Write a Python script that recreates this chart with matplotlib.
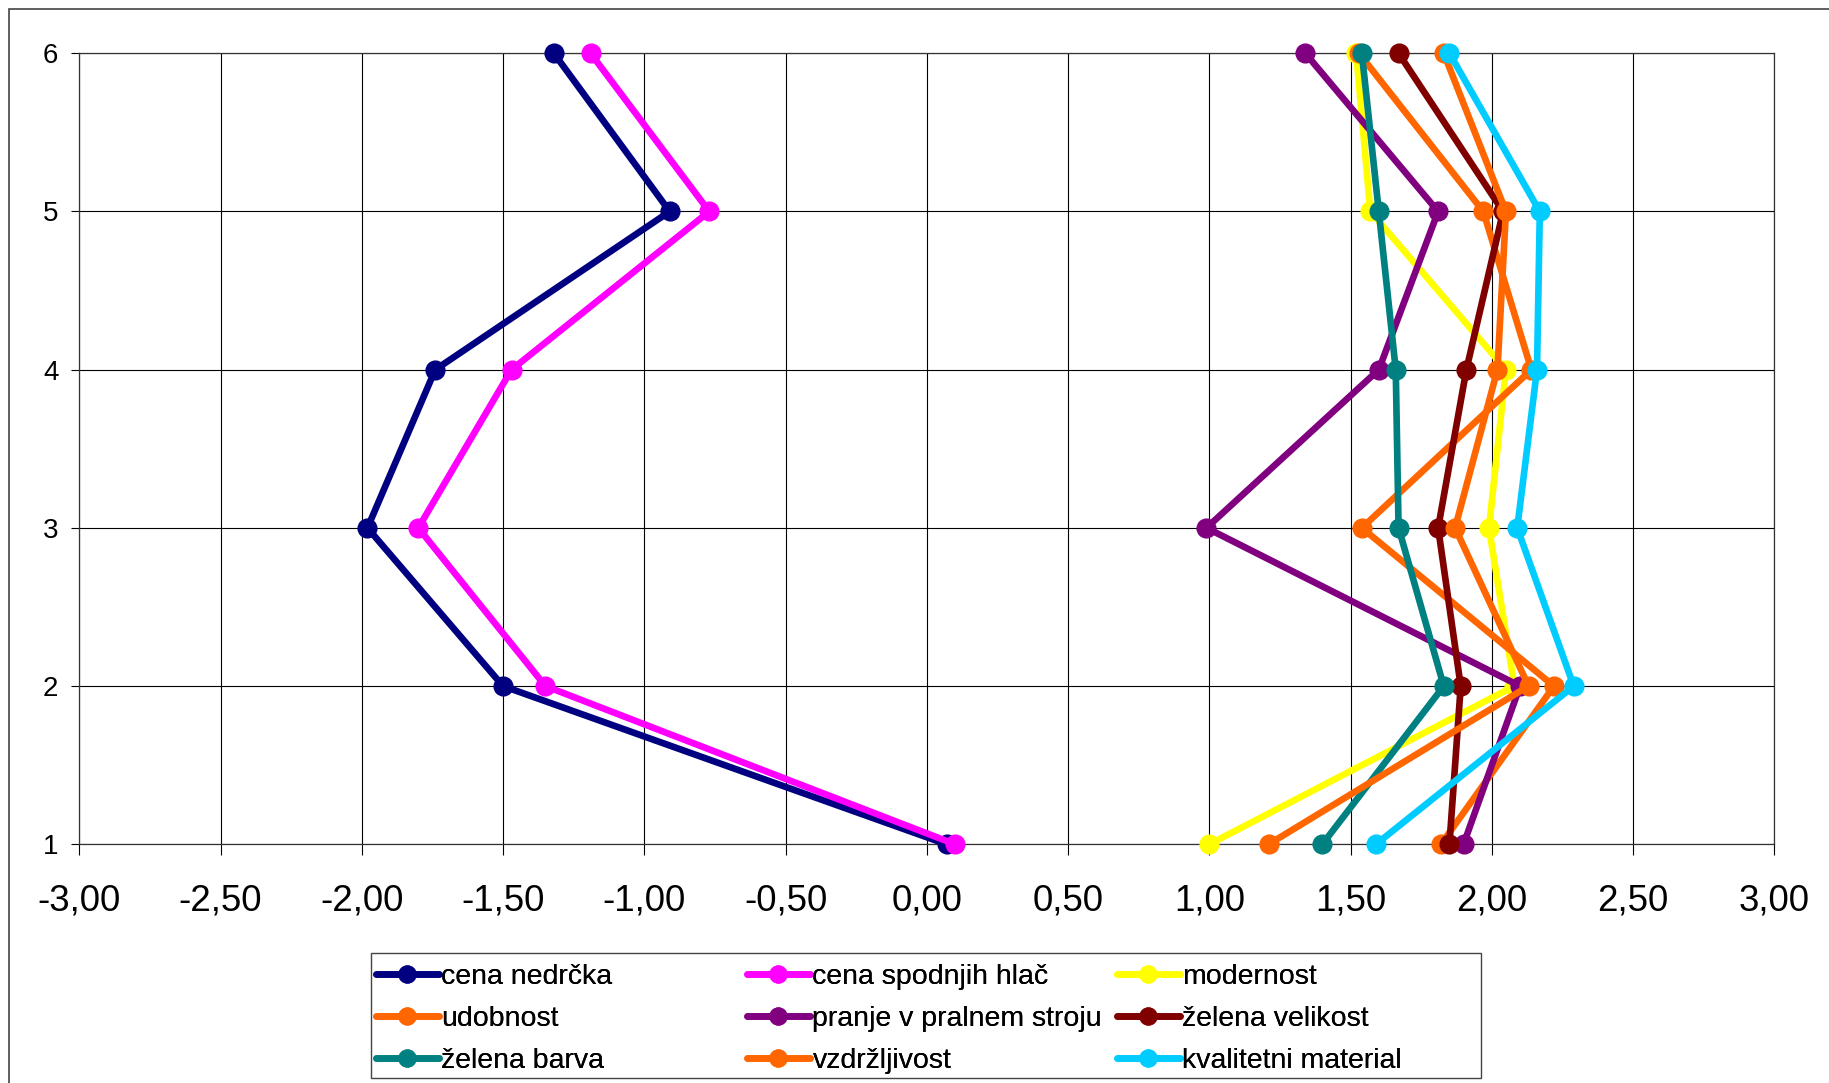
import matplotlib
matplotlib.use("Agg")
import matplotlib.pyplot as plt
from matplotlib.patches import Rectangle
from matplotlib.ticker import FuncFormatter

plt.rcParams["font.family"] = ["Liberation Sans", "DejaVu Sans"]

# podatki (povprecja po vprasanjih 1..6)
VPRASANJA = [1, 2, 3, 4, 5, 6]

cena_nedrcka = [0.07, -1.50, -1.98, -1.74, -0.91, -1.32]
cena_spodnjih_hlac = [0.10, -1.35, -1.80, -1.47, -0.77, -1.19]
modernost = [1.00, 2.08, 1.99, 2.05, 1.57, 1.52]
udobnost = [1.82, 2.22, 1.54, 2.14, 1.97, 1.53]
pranje = [1.90, 2.10, 0.99, 1.60, 1.81, 1.34]
zelena_velikost = [1.85, 1.89, 1.81, 1.91, 2.04, 1.67]
zelena_barva = [1.40, 1.83, 1.67, 1.66, 1.60, 1.54]
vzdrzljivost = [1.21, 2.13, 1.87, 2.02, 2.05, 1.83]
kvalitetni_material = [1.59, 2.29, 2.09, 2.16, 2.17, 1.85]

SERIJE = [
    ("cena nedrčka", cena_nedrcka, "#000080"),
    ("cena spodnjih hlač", cena_spodnjih_hlac, "#FF00FF"),
    ("modernost", modernost, "#FFFF00"),
    ("udobnost", udobnost, "#FF6600"),
    ("pranje v pralnem stroju", pranje, "#800080"),
    ("želena velikost", zelena_velikost, "#800000"),
    ("želena barva", zelena_barva, "#008080"),
    ("vzdržljivost", vzdrzljivost, "#FF6600"),
    ("kvalitetni material", kvalitetni_material, "#00CCFF"),
]

X_TICKS = [-3.0, -2.5, -2.0, -1.5, -1.0, -0.5, 0.0, 0.5, 1.0, 1.5, 2.0, 2.5, 3.0]

W, H = 1829, 1083
fig = plt.figure(figsize=(W / 100, H / 100), dpi=100)
fig.patch.set_facecolor("white")

ax = fig.add_axes([79.3 / W, 1 - 844.3 / H, 1695 / W, 791 / H])

handles = []
for nombre, vals, color in SERIJE:
    (ln,) = ax.plot(vals, VPRASANJA, color=color, linewidth=4.8, marker="o",
                    markersize=13.5, markeredgecolor=color, label=nombre,
                    solid_capstyle="round", clip_on=False, zorder=3)
    handles.append(ln)

ax.set_xlim(-3, 3)
ax.set_ylim(1, 6)
ax.set_xticks(X_TICKS)
ax.set_yticks(VPRASANJA)
ax.xaxis.set_major_formatter(FuncFormatter(lambda v, p: f"{v:.2f}".replace(".", ",")))
ax.grid(True, color="black", linewidth=0.8)
ax.set_axisbelow(True)
for sp in ax.spines.values():
    sp.set_color("#333333")
    sp.set_linewidth(0.9)
ax.tick_params(axis="x", direction="out", length=8, width=0.8, pad=20, labelsize=26.5)
ax.tick_params(axis="y", direction="out", length=6, width=0.8, pad=9, labelsize=20)

# okvir celotnega grafa
fig.patches.append(Rectangle((9 / W, -0.1), 2, 1.1 - 9 / H, transform=fig.transFigure,
                             fill=False, edgecolor="#444444", linewidth=1.2))

# okvir legende
fig.patches.append(Rectangle((371 / W, 1 - 1078 / H), 1110 / W, 125 / H,
                             transform=fig.transFigure, fill=False,
                             edgecolor="#444444", linewidth=1.0))

# tri stolpce legende
stolpci = [376, 747, 1117]
for i, x0 in enumerate(stolpci):
    hs = handles[i::3]
    leg = fig.legend(hs, [h.get_label() for h in hs], loc="upper left",
                     bbox_to_anchor=(x0 / W, 1 - 964 / H), frameon=False,
                     fontsize=20.5, borderpad=0, borderaxespad=0,
                     handlelength=2.2, handletextpad=0.1, labelspacing=0.57,
                     markerscale=0.9)
    fig.add_artist(leg)

fig.savefig("out.png", dpi=100, facecolor="white")
